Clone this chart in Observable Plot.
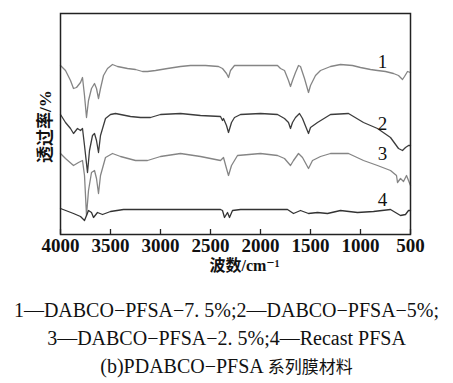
<!DOCTYPE html>
<html>
<head>
<meta charset="utf-8">
<script src="https://cdn.jsdelivr.net/npm/d3@7"></script>
<script src="https://cdn.jsdelivr.net/npm/@observablehq/plot@0.6"></script>
<style>
  html, body { margin: 0; padding: 0; background: #fff; }
  #wrap { position: relative; width: 453px; height: 383px; overflow: hidden; }
  #captions { position: absolute; left: 0; top: 297px; width: 453px; text-align: center;
    font-family: "Liberation Serif", "Times New Roman", Times, "DejaVu Serif", "Noto Sans CJK SC", serif; font-size: 20px; line-height: 27.5px; color: #111; }
  #captions div { white-space: nowrap; }
  #captions .cjk { font-family: "Noto Sans CJK SC", sans-serif; font-size: 17px; }
  svg text { font-family: "Liberation Serif", "Times New Roman", Times, "DejaVu Serif", "Noto Sans CJK SC", serif; }
</style>
</head>
<body>
<div id="wrap">
  <div id="chart"></div>
  <div id="captions"></div>
</div>
<script>
// Wavenumbers (cm^-1) and transmittance (arbitrary units, offset spectra)
const wn1 = [4000,3950,3900,3870,3840,3800,3780,3760,3740,3720,3690,3660,3640,3620,3600,3570,3530,3480,3430,3380,3330,3250,3180,3130,3050,2930,2800,2700,2550,2420,2380,2340,2320,2300,2260,2100,1900,1830,1800,1760,1720,1700,1680,1650,1620,1600,1560,1520,1500,1450,1400,1300,1200,1080,1000,900,830,750,670,620,600,580,560,530,500];
const t1  = [168,163,153,145,146,151,156,138,116,133,145,150,145,135,145,158,165,169,167,166,165,164,162,162,163,165,167,168,168,167,165,160,156,163,168,168,168,168,165,163,153,147,153,161,168,167,155,141,148,158,163,167,169,168,166,164,163,162,160,158,156,154,157,162,161];

const wn2 = [4000,3950,3900,3870,3830,3800,3780,3760,3730,3710,3680,3660,3640,3620,3600,3550,3500,3450,3300,3200,3100,3000,2800,2600,2400,2380,2370,2340,2320,2290,2260,2200,2000,1830,1760,1720,1700,1680,1650,1610,1580,1520,1500,1430,1300,1120,970,830,700,620,580,550,520,500];
const t2  = [119,111,105,100,105,103,105,88,61,83,98,100,93,81,98,115,119,120,117,116,116,119,120,118,117,113,115,108,101,111,116,119,120,119,115,111,105,111,116,120,115,100,106,111,119,120,111,105,96,85,83,86,88,88];

const wn3 = [4000,3950,3870,3820,3780,3760,3740,3720,3690,3660,3640,3620,3600,3550,3480,3400,3250,3130,3000,2800,2600,2400,2370,2340,2320,2290,2230,2000,1830,1760,1700,1670,1620,1580,1520,1480,1400,1300,1120,970,830,700,640,630,600,570,540,500];
const t3  = [80,75,68,71,73,58,18,43,61,63,55,40,58,76,80,77,73,73,77,80,77,73,76,65,58,68,78,80,78,75,68,73,80,76,65,73,77,80,80,73,68,63,58,51,55,52,58,48];

const wn4 = [4000,3870,3800,3760,3720,3690,3670,3630,3580,3500,3370,2400,2380,2360,2330,2310,2280,2200,1730,1670,1600,1520,1430,1330,1200,1030,870,700,600,550,520,500];
const t4  = [25,20,17,13,23,21,16,21,19,22,24,24,23,16,21,16,23,24,24,20,23,20,21,20,23,21,22,24,18,19,23,23];

const seriesNames = ["1", "2", "3", "4"];
const seriesColors = ["#858585", "#3c3c3c", "#858585", "#333333"];
const labelWn = [780, 780, 780, 780];
const labelT  = [172, 110, 80, 34];

const xTicks = [4000, 3500, 3000, 2500, 2000, 1500, 1000, 500];
const xLabel = "波数/cm⁻¹";
const yLabel = "透过率/%";
const captionLines = [
  "1—DABCO−PFSA−7. 5%;2—DABCO−PFSA−5%;",
  "3—DABCO−PFSA−2. 5%;4—Recast PFSA",
  "(b)PDABCO−PFSA "
];
const captionCjk = ["", "", "系列膜材料"];

const spectra = [[wn1, t1], [wn2, t2], [wn3, t3], [wn4, t4]];
const rows = spectra.flatMap(([w, t], i) => w.map((x, j) => ({series: seriesNames[i], wn: x, t: t[j]})));
const labels = seriesNames.map((s, i) => ({s, wn: labelWn[i], t: labelT[i]}));

const serif = "'Liberation Serif', 'Times New Roman', Times, 'DejaVu Serif', 'Noto Sans CJK SC', serif";
const W = 453, H = 280, mt = 13, mb = 46, ml = 60, mr = 43;
const innerH = H - mt - mb, innerW = W - ml - mr;

const chart = Plot.plot({
  width: W, height: H,
  marginTop: mt, marginBottom: mb, marginLeft: ml, marginRight: mr,
  style: {fontFamily: serif, fontSize: "18px", color: "#111", background: "#fff"},
  x: {domain: [4000, 500], ticks: xTicks},
  y: {domain: [-1, 220], axis: null},
  color: {domain: seriesNames, range: seriesColors},
  marks: [
    Plot.line(rows, {x: "wn", y: "t", z: "series", stroke: "series", strokeWidth: 1.3, curve: "linear"}),
    Plot.frame({stroke: "#222", strokeWidth: 1.5}),
    Plot.tickX(xTicks, {x: d => d, insetTop: innerH - 5, stroke: "#222", strokeWidth: 1.3}),
    Plot.axisX({ticks: xTicks, tickSize: 0, tickPadding: 4, label: null, fontWeight: "bold", fontSize: 19, fontFamily: serif, tickFormat: d => String(d)}),
    Plot.text(labels, {x: "wn", y: "t", text: "s", fontSize: 19, fontFamily: serif, fill: "#111"}),
    Plot.text([xLabel], {frameAnchor: "bottom", lineAnchor: "middle", dy: 31, dx: 9, fontWeight: "bold", fontSize: 16, fontFamily: serif, fill: "#111"}),
    Plot.text([yLabel], {frameAnchor: "left", textAnchor: "start", lineAnchor: "middle", dx: -15, dy: 39, rotate: -90, fontWeight: "bold", fontSize: 17, fontFamily: "'Noto Sans CJK SC', serif", fill: "#111"})
  ]
});
document.getElementById("chart").appendChild(chart);

const cap = document.getElementById("captions");
captionLines.forEach((l, i) => {
  const d = document.createElement("div");
  d.appendChild(document.createTextNode(l));
  if (captionCjk[i]) { const s = document.createElement("span"); s.className = "cjk"; s.textContent = captionCjk[i]; d.appendChild(s); }
  cap.appendChild(d);
});
</script>
</body>
</html>
